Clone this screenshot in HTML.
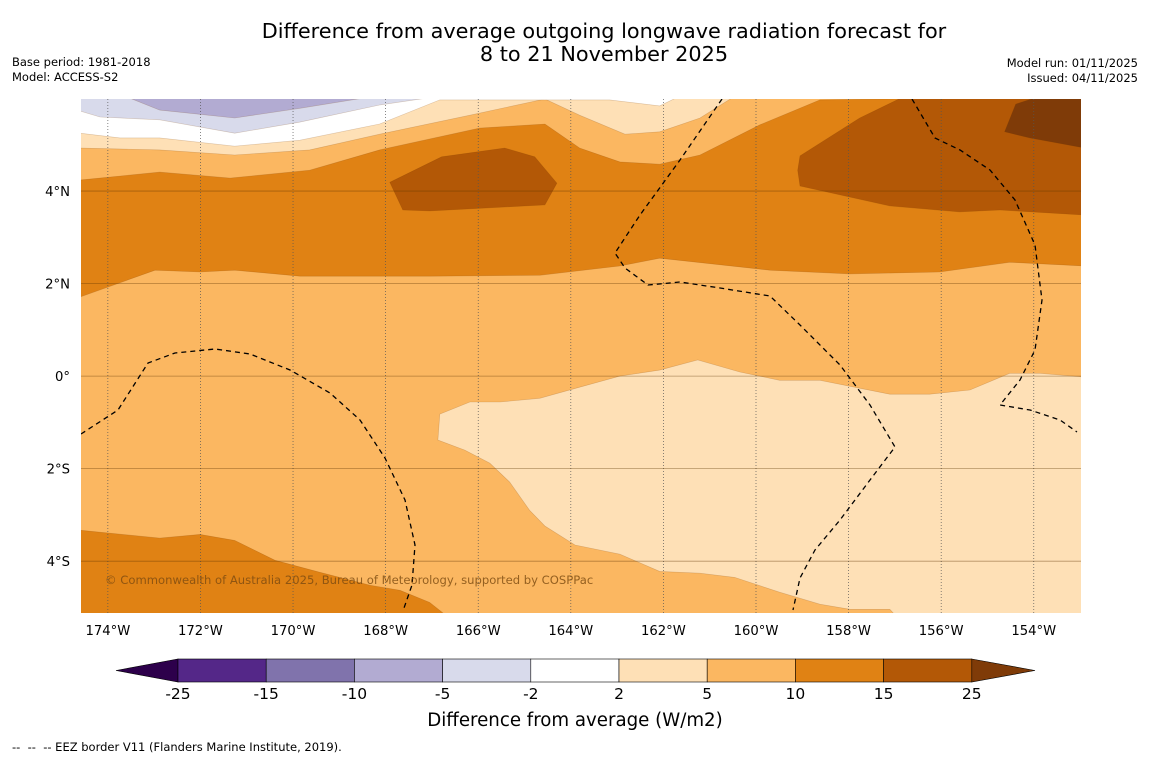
<!DOCTYPE html>
<html><head><meta charset="utf-8"><style>
body{margin:0;background:#fff;width:1150px;height:758px;overflow:hidden;font-family:"DejaVu Sans","Liberation Sans",sans-serif;}
svg text{font-family:"DejaVu Sans","Liberation Sans",sans-serif;}
</style></head><body>
<svg id="chart" width="1150" height="758" xmlns="http://www.w3.org/2000/svg">
<text x="604" y="38" font-size="20.8" text-anchor="middle">Difference from average outgoing longwave radiation forecast for</text>
<text x="604" y="61" font-size="20.8" text-anchor="middle">8 to 21 November 2025</text>
<text x="12" y="66" font-size="11.5">Base period: 1981-2018</text>
<text x="12" y="81" font-size="11.5">Model: ACCESS-S2</text>
<text x="1138" y="67" font-size="11.5" text-anchor="end">Model run: 01/11/2025</text>
<text x="1138" y="82" font-size="11.5" text-anchor="end">Issued: 04/11/2025</text>
<defs><clipPath id="mapclip"><rect x="81" y="99" width="1000" height="514"/></clipPath></defs>
<g id="map" clip-path="url(#mapclip)"></g>
<g id="axes"></g>
<text x="105" y="584" font-size="11.6" fill="#7a4a10" fill-opacity="0.8">© Commonwealth of Australia 2025, Bureau of Meteorology, supported by COSPPac</text>
<g id="cbar"></g>
<text x="575" y="726" font-size="18.2" text-anchor="middle">Difference from average (W/m2)</text>
<text x="12" y="751" font-size="11.5">--&#160;&#160;--&#160;&#160;-- EEZ border V11 (Flanders Marine Institute, 2019).</text>
</svg>
<script>
const colorLevels=["-25","-15","-10","-5","-2","2","5","10","15","25"];
const levelColors=["#542788","#8073ac","#b2abd2","#d8daeb","#ffffff","#fee0b6","#fbb761","#e08214","#b35806"];
const lonTicks=[-174,-172,-170,-168,-166,-164,-162,-160,-158,-156,-154];
const latTicks=[4,2,0,-2,-4];
// contour regions, [lon,lat], painted in order
const regionBase={level:6,pts:[[-174.6,6],[-152.9,6],[-152.9,-5.2],[-174.6,-5.2]]};
const region2to5N={level:5,pts:[[-174.6,4.93],[-172.88,4.89],[-171.26,4.78],[-169.64,4.89],[-168.13,5.23],[-166.18,5.64],[-164.56,5.99],[-163.81,5.64],[-162.83,5.23],[-162.08,5.28],[-161.21,5.58],[-160.46,6.05],[-174.6,6.05]]};
const regionWhite={level:4,pts:[[-174.6,5.25],[-173.74,5.15],[-172.88,5.15],[-171.26,4.97],[-169.85,5.10],[-168.13,5.45],[-166.83,5.97],[-164.2,5.97],[-163.16,5.97],[-162.08,5.84],[-161.65,6.05],[-174.6,6.05]]};
const regionLav={level:3,pts:[[-174.6,5.73],[-174.17,5.60],[-172.88,5.54],[-171.26,5.25],[-169.85,5.49],[-168.13,5.86],[-166.83,6.05],[-174.6,6.05]]};
const regionPurp={level:2,pts:[[-173.63,6.05],[-172.88,5.75],[-171.26,5.58],[-169.85,5.79],[-168.23,6.05]]};
const region10N={level:7,pts:[[-174.6,4.24],[-172.88,4.41],[-171.36,4.28],[-169.64,4.45],[-168.13,4.89],[-165.97,5.36],[-164.56,5.45],[-163.81,4.93],[-162.94,4.63],[-162.08,4.58],[-161.21,4.78],[-159.92,5.43],[-158.62,5.97],[-152.9,6.05],[-152.9,2.38],[-154.52,2.46],[-156.03,2.25],[-157.97,2.21],[-159.70,2.29],[-162.08,2.55],[-162.94,2.38],[-164.67,2.18],[-167.05,2.16],[-169.85,2.16],[-171.26,2.29],[-172.01,2.25],[-172.98,2.29],[-174.6,1.71]]};
const region15a={level:8,pts:[[-167.91,4.19],[-166.79,4.74],[-165.43,4.93],[-164.78,4.74],[-164.30,4.17],[-164.56,3.70],[-167.05,3.57],[-167.63,3.59]]};
const region15b={level:8,pts:[[-159.05,4.76],[-157.76,5.58],[-156.79,6.05],[-152.9,6.05],[-152.9,3.48],[-154.73,3.59],[-155.60,3.55],[-157.11,3.68],[-159.05,4.11],[-159.10,4.45]]};
const region25={level:9,pts:[[-154.39,5.88],[-153.87,6.05],[-152.9,6.05],[-152.9,4.93],[-154.09,5.15],[-154.63,5.28]]};
const region10S={level:7,pts:[[-174.6,-3.33],[-172.88,-3.50],[-172.01,-3.42],[-171.26,-3.55],[-170.39,-3.98],[-169.42,-4.24],[-168.34,-4.52],[-167.69,-4.63],[-167.05,-4.89],[-166.66,-5.2],[-174.6,-5.2]]};
const region2to5S={level:5,pts:[[-166.83,-0.82],[-166.18,-0.56],[-165.53,-0.56],[-164.67,-0.48],[-163.81,-0.24],[-162.94,0],[-162.08,0.13],[-161.26,0.35],[-160.35,0.09],[-159.49,-0.09],[-158.62,-0.09],[-157.11,-0.39],[-156.25,-0.39],[-155.38,-0.30],[-154.52,0.06],[-153.87,0.06],[-152.9,-0.02],[-152.9,-5.2],[-156.96,-5.2],[-157.11,-5.04],[-157.97,-5.04],[-158.62,-4.93],[-159.49,-4.67],[-160.46,-4.35],[-161.21,-4.26],[-162.08,-4.22],[-162.94,-3.85],[-163.91,-3.65],[-164.56,-3.24],[-164.89,-2.90],[-165.32,-2.29],[-165.75,-1.88],[-166.29,-1.60],[-166.87,-1.38]]};
const regions=[regionBase,region10N,region15a,region15b,region25,region2to5N,regionWhite,regionLav,regionPurp,region10S,region2to5S];

const X0=81,X1=1081,Y0=99,Y1=613;
const lonMin=-174.58,lonMax=-152.98,latMin=-5.12,latMax=5.99;
function xs(lon){return X0+(lon-lonMin)/(lonMax-lonMin)*(X1-X0);}
function ys(lat){return Y0+(latMax-lat)/(latMax-latMin)*(Y1-Y0);}
const NS="http://www.w3.org/2000/svg";
function mk(t,a,p){const e=document.createElementNS(NS,t);for(const k in a)e.setAttribute(k,a[k]);p.appendChild(e);return e;}
const map=document.getElementById('map');
const colorsForLevel=levelColors.concat(["#7f3b08"]);
regions.forEach(function(r,i){
  const pts=r.pts.map(p=>xs(p[0]).toFixed(1)+','+ys(p[1]).toFixed(1)).join(' ');
  const e=mk('polygon',{points:pts,fill:colorsForLevel[r.level],stroke:i===0?'none':'rgba(120,60,0,0.25)','stroke-width':0.6},map);
  
  
});
lonTicks.forEach(function(l){
  const e=mk('line',{x1:xs(l),x2:xs(l),y1:Y0,y2:Y1,stroke:'#555','stroke-width':0.7,'stroke-dasharray':'1,2'},map);
  
  
});
latTicks.forEach(function(l){
  const e=mk('line',{x1:X0,x2:X1,y1:ys(l),y2:ys(l),stroke:'rgba(90,50,0,0.45)','stroke-width':0.8},map);
  
  
});
const eez=["M81,434 L118,410 L148,363 L175,353 L215,349 L250,354 L290,370 L330,393 L360,420 L385,458 L405,500 L415,545 L412,585 L404,608",
"M722,99 L680,160 L640,215 L615,253 L625,268 L648,285 L680,282 L720,288 L770,296 L800,325 L840,365 L870,405 L895,447 L870,480 L840,520 L815,550 L800,578 L793,610",
"M912,99 L935,138 L960,150 L990,170 L1015,200 L1035,245 L1042,300 L1035,350 L1020,380 L1000,405 L1030,410 L1060,420 L1077,432"];
eez.forEach(function(d){
  const e=mk('path',{d:d,fill:'none',stroke:'#000','stroke-width':1.3,'stroke-dasharray':'5,4'},map);
  
  
});
const ax=document.getElementById('axes');
lonTicks.forEach(function(l){
  const t=mk('text',{x:xs(l),y:635,'font-size':13.2,'text-anchor':'middle'},ax);
  t.textContent=Math.abs(l)+'°W';
  
  
});
latTicks.forEach(function(l){
  const t=mk('text',{x:70,y:ys(l)+5,'font-size':13.2,'text-anchor':'end'},ax);
  t.textContent=l===0?'0°':Math.abs(l)+'°'+(l>0?'N':'S');
  
  
});
const cb=document.getElementById('cbar');
const cx0=178,cw=88.2,cy=659,ch=23;
let e=mk('polygon',{points:`116,670.5 ${cx0},${cy} ${cx0},${cy+ch}`,fill:'#2d004b',stroke:'#000','stroke-width':0.6},cb);


levelColors.forEach(function(c,i){
  const r=mk('rect',{x:cx0+i*cw,y:cy,width:cw,height:ch,fill:c,stroke:'#000','stroke-width':0.6},cb);
  
  
});
const xe=cx0+levelColors.length*cw;
e=mk('polygon',{points:`${xe},${cy} 1035,670.5 ${xe},${cy+ch}`,fill:'#7f3b08',stroke:'#000','stroke-width':0.6},cb);


colorLevels.forEach(function(s,i){
  const t=mk('text',{x:cx0+i*cw,y:699,'font-size':15.5,'text-anchor':'middle'},cb);
  t.textContent=s;
  
  
});
</script>
</body></html>
